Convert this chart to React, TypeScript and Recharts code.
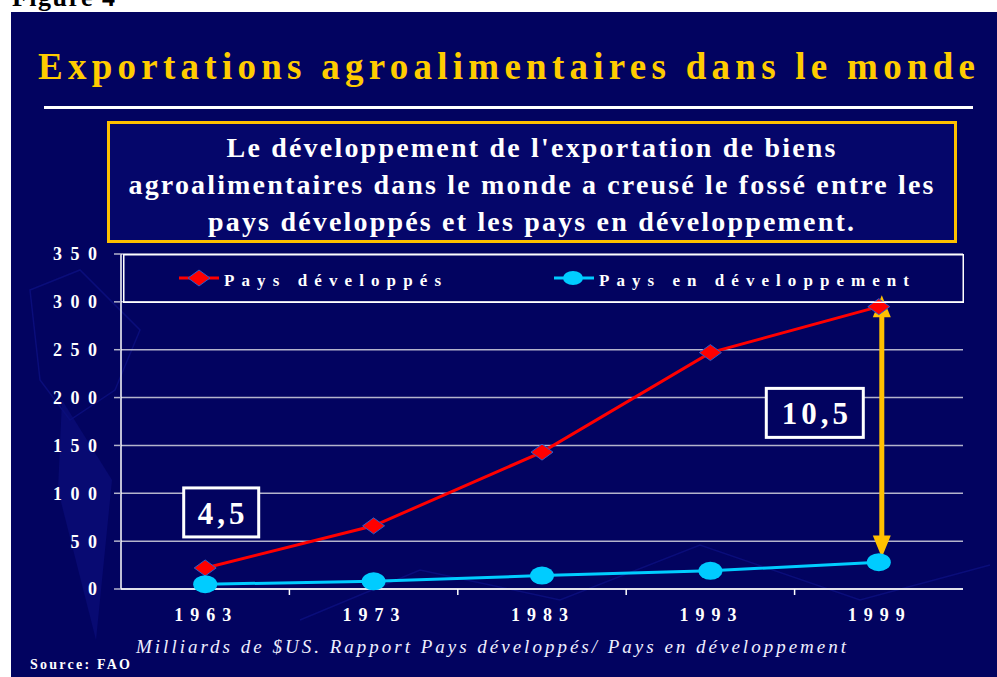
import React from "react";
import {
  LineChart,
  Line,
  XAxis,
  YAxis,
  CartesianGrid,
  Legend,
  ReferenceLine,
  ReferenceDot,
} from "recharts";

// Exportations agroalimentaires (milliards de $US), source FAO
const years = ["1963", "1973", "1983", "1993", "1999"];
const developpes = [22, 66, 143, 247, 295];
const enDeveloppement = [5, 8, 14, 19, 28];
const yTicks = [0, 50, 100, 150, 200, 250, 300, 350];

// annotations: ratio boxes [label, year, value] and the gap arrow in 1999
const ratio1963 = ["4,5", "1963", 80];
const ratio1999 = ["10,5", "1999", 184];
const gapArrow = [307, 33];

const data = years.map((year, i) => ({
  year,
  dev: developpes[i],
  pvd: enDeveloppement[i],
}));

const NAVY = "#020360";
const GOLD = "#ffcc00";
const RED = "#ff0000";
const CYAN = "#00ccff";
const SERIF = '"Liberation Serif", "Times New Roman", serif';

function Diamond(props: any) {
  const { cx, cy } = props;
  if (cx == null || cy == null) return null;
  return (
    <path
      d={`M${cx - 11},${cy} L${cx},${cy - 8} L${cx + 11},${cy} L${cx},${cy + 8} Z`}
      fill={RED}
      stroke="#2a5cc8"
      strokeWidth={1}
    />
  );
}

function Oval(props: any) {
  const { cx, cy } = props;
  if (cx == null || cy == null) return null;
  return <ellipse cx={cx} cy={cy} rx={12} ry={9} fill={CYAN} />;
}

function YTick(props: any) {
  const { x, y, payload } = props;
  return (
    <text
      x={x}
      y={y}
      dx={8.5}
      dy="0.355em"
      textAnchor="end"
      fill="#fff"
      fontFamily={SERIF}
      fontWeight="bold"
      fontSize={18}
      letterSpacing={8.5}
    >
      {payload.value}
    </text>
  );
}

function XTick(props: any) {
  const { x, y, payload, index } = props;
  const half = payload.offset || 84;
  return (
    <g>
      <text
        x={x}
        y={y}
        dx={1}
        dy="0.71em"
        textAnchor="middle"
        fill="#fff"
        fontFamily={SERIF}
        fontWeight="bold"
        fontSize={18}
        letterSpacing={7}
      >
        {payload.value}
      </text>
      {index < years.length - 1 && (
        <line x1={x + half} x2={x + half} y1={y - 19} y2={y - 13} stroke="#fff" strokeWidth={1.5} />
      )}
    </g>
  );
}

function GapArrow(props: any) {
  const { x1, y1, y2 } = props;
  if (x1 == null) return null;
  const x = x1 + 3;
  const top = Math.min(y1, y2);
  const bot = Math.max(y1, y2);
  return (
    <g>
      <line x1={x} x2={x} y1={top + 18} y2={bot - 18} stroke="#ffc000" strokeWidth={5} />
      <path d={`M${x},${top} L${x - 9},${top + 22} L${x + 9},${top + 22} Z`} fill="#ffc000" />
      <path d={`M${x},${bot} L${x - 9},${bot - 22} L${x + 9},${bot - 22} Z`} fill="#ffc000" />
    </g>
  );
}

function ratioBox(label: string, dx: number, w: number) {
  return (props: any) => {
    const { cx, cy } = props;
    if (cx == null) return null;
    const h = 49;
    return (
      <g>
        <rect x={cx + dx - w / 2} y={cy - h / 2} width={w} height={h} fill={NAVY} stroke="#fff" strokeWidth={3} />
        <text
          x={cx + dx}
          y={cy}
          dx={2}
          dy="0.36em"
          textAnchor="middle"
          fill="#fff"
          fontFamily={SERIF}
          fontWeight="bold"
          fontSize={31}
          letterSpacing={4}
        >
          {label}
        </text>
      </g>
    );
  };
}

function LegendBox(props: any) {
  const items = props.payload || [];
  const names = items.map((it: any) => it.value);
  return (
    <svg width={841} height={49} style={{ display: "block" }}>
      <rect x={0.75} y={0.75} width={839.5} height={47.5} fill="none" stroke="#fff" strokeWidth={1.5} />
      <line x1={56} x2={96} y1={24} y2={24} stroke={RED} strokeWidth={3} />
      <Diamond cx={76} cy={24} />
      <text x={101} y={32} fill="#fff" fontFamily={SERIF} fontWeight="bold" fontSize={17} textLength={217} lengthAdjust="spacing">
        {names[0]}
      </text>
      <line x1={431} x2={471} y1={24} y2={24} stroke={CYAN} strokeWidth={3} />
      <ellipse cx={450} cy={24} rx={10} ry={7} fill={CYAN} />
      <text x={476} y={32} fill="#fff" fontFamily={SERIF} fontWeight="bold" fontSize={17} textLength={310} lengthAdjust="spacing">
        {names[1]}
      </text>
    </svg>
  );
}

export default function App() {
  return (
    <div
      style={{
        position: "absolute",
        left: 0,
        top: 0,
        width: 997,
        height: 677,
        background: "#fff",
        overflow: "hidden",
      }}
    >
      <svg width={997} height={677} style={{ position: "absolute", left: 0, top: 0 }}>
        <text x={12} y={6} fill="#000" fontFamily={SERIF} fontWeight="bold" fontSize={26} textLength={103} lengthAdjust="spacing">
          Figure 4
        </text>
        <rect x={11} y={12} width={986} height={665} fill={NAVY} />
        {/* faint background decoration */}
        <path d="M62,400 L112,480 L96,640 L58,490 Z" fill="#080a72" />
        <path d="M30,290 L80,270 L140,330 L115,390 L70,420 L40,380 Z" fill="none" stroke="#0a0d7a" strokeWidth={1.5} />
        <path d="M300,620 L420,570 L560,600 L700,545 L860,600 L990,565" fill="none" stroke="#0a0d7a" strokeWidth={1.5} />
        <text x={38} y={79} fill={GOLD} fontFamily={SERIF} fontWeight="bold" fontSize={37} textLength={937} lengthAdjust="spacing">
          Exportations agroalimentaires dans le monde
        </text>
        <rect x={44} y={106} width={929} height={3} fill="#fff" />
        <rect x={108.5} y={122.5} width={847} height={119} fill="#05066a" stroke="#ffc000" strokeWidth={3} />
        <g fill="#fff" fontFamily={SERIF} fontWeight="bold" fontSize={28} textAnchor="middle">
          <text x={531} y={157} textLength={609} lengthAdjust="spacing">
            Le développement de l'exportation de biens
          </text>
          <text x={531} y={194} textLength={805} lengthAdjust="spacing">
            agroalimentaires dans le monde a creusé le fossé entre les
          </text>
          <text x={531} y={231} textLength={646} lengthAdjust="spacing">
            pays développés et les pays en développement.
          </text>
        </g>
        <text x={136} y={653} fill="#eef" fontFamily={SERIF} fontStyle="italic" fontSize={19} textLength={710} lengthAdjust="spacing">
          Milliards de $US. Rapport Pays développés/ Pays en développement
        </text>
        <text x={30} y={669} fill="#fff" fontFamily={SERIF} fontWeight="bold" fontSize={14} textLength={100} lengthAdjust="spacing">
          Source: FAO
        </text>
      </svg>
      <div style={{ position: "absolute", left: 0, top: 0 }}>
        <LineChart
          width={997}
          height={677}
          data={data}
          margin={{ top: 254, right: 34, bottom: 58, left: 11 }}
        >
          <CartesianGrid horizontal vertical={false} stroke="#b4b4cc" strokeWidth={1.5} />
          <XAxis
            dataKey="year"
            scale="band"
            height={30}
            axisLine={{ stroke: "#fff", strokeWidth: 1.5 }}
            tickLine={false}
            tickSize={6}
            tickMargin={13}
            tick={<XTick />}
            interval={0}
          />
          <YAxis
            domain={[0, 350]}
            ticks={yTicks}
            width={110}
            axisLine={{ stroke: "#fff", strokeWidth: 1.5 }}
            tickLine={{ stroke: "#b4b4cc", strokeWidth: 1.5 }}
            tickSize={7}
            tickMargin={17}
            tick={<YTick />}
            interval={0}
          />
          <YAxis
            yAxisId="frame"
            orientation="right"
            domain={[0, 350]}
            width={0}
            tick={false}
            tickLine={false}
            axisLine={{ stroke: "#b4b4cc", strokeWidth: 1.5 }}
          />
          <Legend
            layout="horizontal"
            verticalAlign="middle"
            align="center"
            wrapperStyle={{ left: 123, top: 254, width: 841, height: 49 }}
            content={<LegendBox />}
          />
          <Line
            name="Pays développés"
            dataKey="dev"
            stroke={RED}
            strokeWidth={3}
            dot={(p: any) => <Diamond key={`d${p.index}`} {...p} />}
            isAnimationActive={false}
          />
          <Line
            name="Pays en développement"
            dataKey="pvd"
            stroke={CYAN}
            strokeWidth={3}
            dot={(p: any) => <Oval key={`o${p.index}`} {...p} />}
            isAnimationActive={false}
          />
          <ReferenceLine
            segment={[
              { x: "1999", y: gapArrow[0] },
              { x: "1999", y: gapArrow[1] },
            ]}
            shape={<GapArrow />}
            ifOverflow="visible"
          />
          <ReferenceDot
            x={ratio1963[1] as string}
            y={ratio1963[2] as number}
            shape={ratioBox(ratio1963[0] as string, 16, 75)}
            ifOverflow="visible"
          />
          <ReferenceDot
            x={ratio1999[1] as string}
            y={ratio1999[2] as number}
            shape={ratioBox(ratio1999[0] as string, -64, 97)}
            ifOverflow="visible"
          />
        </LineChart>
      </div>
    </div>
  );
}
